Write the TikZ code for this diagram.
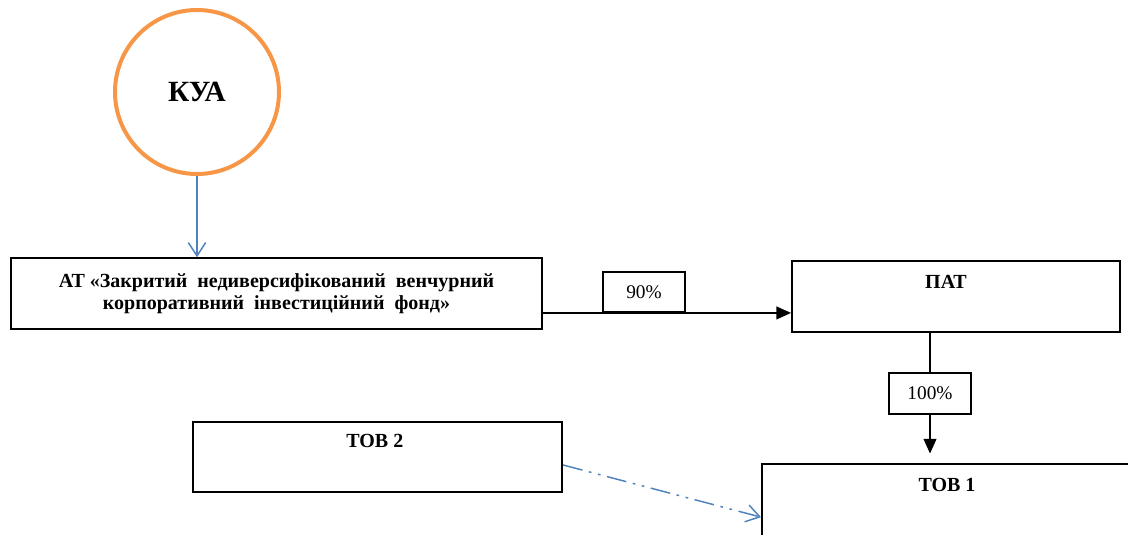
\documentclass[tikz,border=0pt]{standalone}
\usepackage{fontspec}
\setmainfont{Liberation Serif}
\usetikzlibrary{arrows.meta, positioning}

\definecolor{kuaorange}{HTML}{F79646}
\definecolor{linkblue}{HTML}{4F81BD}

\begin{document}
\begin{tikzpicture}[
            x = 0.75pt, y = -0.75pt, % one unit = one pixel
            > = {Triangle[length=11pt, width=9.5pt]}, % arrow head style
            line width = 1.4pt % line style
        ]

        \tikzstyle{box}=[
        draw = black,
        rectangle,
        line width = 1.4pt,
        inner sep = 0pt
        ]
        \tikzstyle{pct}=[box, fill = white, font = \fontsize{14.5}{17}\selectfont]
        \tikzstyle{title}=[font = \fontsize{15}{16.5}\selectfont\bfseries, align = center, inner sep = 0pt]
        \tikzstyle{bluelink}=[draw = linkblue, line width = 1.1pt, -{Straight Barb[length=10pt, width=13pt]}]

        \useasboundingbox (0,0) rectangle (1128,535);

        \node (kua) [circle, draw = kuaorange, line width = 3pt, minimum size = 123pt,
            font = \fontsize{22}{26}\selectfont\bfseries] at (197,92) {КУА};

        \node (at) [box, title, minimum width = 398pt, minimum height = 53pt] at (276.5,293.5)
            {АТ «Закритий\ \ недиверсифікований\ \ венчурний\\корпоративний\ \ інвестиційний\ \ фонд»};
        \node (pat) [box, minimum width = 246pt, minimum height = 53pt] at (956,296.5) {};
        \node (pattext) [title, below = 10.5pt of pat.north, xshift = -7.5pt] {ПАТ};
        \node (tob2) [box, minimum width = 277pt, minimum height = 52.5pt] at (377.5,457) {};
        \node (tob2text) [title, below = 9.5pt of tob2.north, xshift = -2pt] {ТОВ 2};
        \node (tob1) [box, minimum width = 277.5pt, minimum height = 61pt] at (947,504.5) {};
        \node (tob1text) [title, below = 10.5pt of tob1.north] {ТОВ 1};

        \node (pct90) [pct, minimum width = 61.5pt, minimum height = 30pt] at (644,292) {90\%\hspace{9pt}};
        \node (pct100) [pct, minimum width = 62pt, minimum height = 30.5pt] at (930,393.5) {100\%};

        \draw[bluelink] (kua.south) -- (kua.south |- at.north);
        \draw[->] (at.east |- pct90.south) -- (pat.west |- pct90.south);
        \draw (pat.south -| pct100) -- (pct100.north);
        \draw[->, shorten > = 7pt] (pct100.south) -- (pct100.south |- tob1.north);
        \draw[bluelink, dash pattern = on 15pt off 5pt on 2pt off 5pt on 2pt off 5pt]
            ([yshift=-6pt]tob2.east) -- ([yshift=-9.5pt]tob1.west);
    \end{tikzpicture}
\end{document}
